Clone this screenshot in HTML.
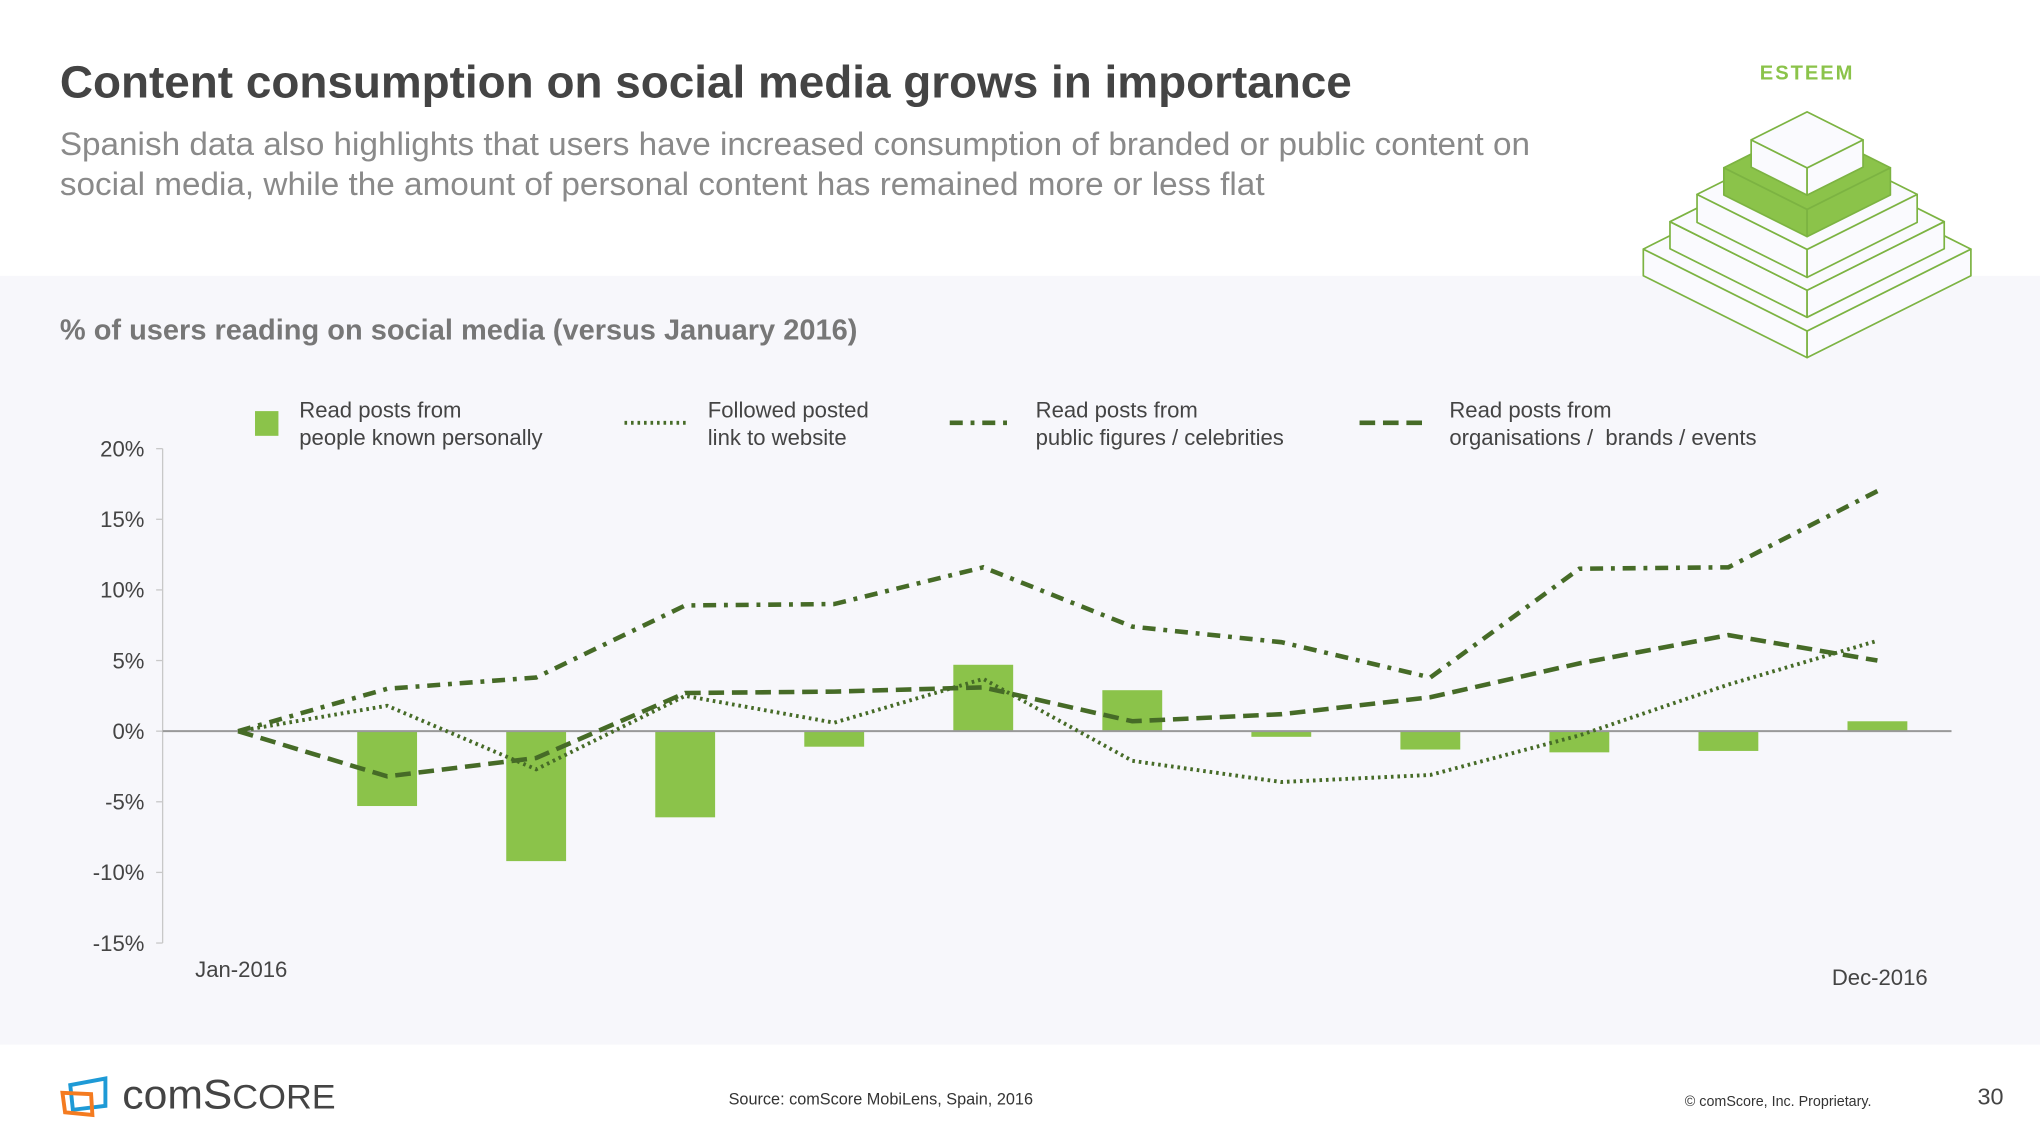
<!DOCTYPE html>
<html><head><meta charset="utf-8"><style>
html,body{margin:0;padding:0;background:#fff;}
svg{display:block;font-family:"Liberation Sans",Arial,sans-serif;}
</style></head><body>
<svg id="page" width="2040" height="1148" viewBox="0 0 1568 882.4" xmlns="http://www.w3.org/2000/svg">
<rect x="0" y="0" width="1568" height="882.4" fill="#ffffff"/>
<rect x="0" y="212" width="1568" height="591" fill="#f7f7fb"/>
<text x="46" y="75" font-size="35" font-weight="bold" fill="#444" textLength="993" lengthAdjust="spacingAndGlyphs">Content consumption on social media grows in importance</text>
<text x="46" y="119" font-size="25" fill="#8a8a8a" textLength="1130" lengthAdjust="spacingAndGlyphs">Spanish data also highlights that users have increased consumption of branded or public content on</text>
<text x="46" y="150" font-size="25" fill="#8a8a8a" textLength="926" lengthAdjust="spacingAndGlyphs">social media, while the amount of personal content has remained more or less flat</text>
<text x="1389" y="61" font-size="15.5" font-weight="bold" fill="#8bc34a" text-anchor="middle" letter-spacing="1.5">ESTEEM</text>
<g id="pyramid"></g>
<text x="46" y="261" font-size="22" font-weight="bold" fill="#777" textLength="613" lengthAdjust="spacingAndGlyphs">% of users reading on social media (versus January 2016)</text>
<g id="legend">
  <g>
    <rect x="196" y="316" width="18" height="19" fill="#8bc34a"/>
    <text x="230" y="321" font-size="17" fill="#444">Read posts from</text>
    <text x="230" y="342" font-size="17" fill="#444">people known personally</text>
  </g>
  <g>
    <line x1="480" y1="325" x2="527" y2="325" stroke="#466b27" stroke-width="3" stroke-dasharray="2 3"/>
    <text x="544" y="321" font-size="17" fill="#444">Followed posted</text>
    <text x="544" y="342" font-size="17" fill="#444">link to website</text>
  </g>
  <g>
    <line x1="730" y1="325" x2="777" y2="325" stroke="#466b27" stroke-width="3.5" stroke-dasharray="10 6 3 6"/>
    <text x="796" y="321" font-size="17" fill="#444">Read posts from</text>
    <text x="796" y="342" font-size="17" fill="#444">public figures / celebrities</text>
  </g>
  <g>
    <line x1="1045" y1="325" x2="1097" y2="325" stroke="#466b27" stroke-width="3.5" stroke-dasharray="12 6"/>
    <text x="1114" y="321" font-size="17" fill="#444">Read posts from</text>
    <text x="1114" y="342" font-size="17" fill="#444" xml:space="preserve">organisations /  brands / events</text>
  </g>
</g>
<g id="chart"></g>
<g>
  <polygon points="54,834 81,829 81,850 56,853" fill="none" stroke="#1e9ad6" stroke-width="3"/>
  <polygon points="48,840 70,841 71,857 50,855" fill="none" stroke="#f47b20" stroke-width="3"/>
  <text x="94" y="852" font-size="31" fill="#444" textLength="164" lengthAdjust="spacingAndGlyphs">com<tspan font-size="32">S</tspan><tspan font-size="26">CORE</tspan></text>
</g>
<text x="677" y="849" font-size="12.5" fill="#333" text-anchor="middle">Source: comScore MobiLens, Spain, 2016</text>
<text x="1295" y="850" font-size="11" fill="#333">© comScore, Inc. Proprietary.</text>
<text x="1540" y="849" font-size="18" fill="#444" text-anchor="end">30</text>
</svg>
<script>
const months = ["Jan-2016","Feb","Mar","Apr","May","Jun","Jul","Aug","Sep","Oct","Nov","Dec-2016"];
const personalValues = [0, -5.3, -9.2, -6.1, -1.1, 4.7, 2.9, -0.4, -1.3, -1.5, -1.4, 0.7];
const linkValues = [0, 1.8, -2.7, 2.5, 0.6, 3.7, -2.1, -3.6, -3.1, -0.3, 3.3, 6.4];
const celebrityValues = [0, 3.0, 3.8, 8.9, 9.0, 11.6, 7.4, 6.3, 3.8, 11.5, 11.6, 17.0];
const brandValues = [0, -3.2, -1.9, 2.7, 2.8, 3.1, 0.7, 1.2, 2.4, 4.8, 6.8, 5.0];
const yTicks = [20, 15, 10, 5, 0, -5, -10, -15];
const yTickLabels = ["20%","15%","10%","5%","0%","-5%","-10%","-15%"];

const NS = "http://www.w3.org/2000/svg";
const chart = document.getElementById("chart");
function y(v){ return 562 - v * 10.857; }
function x(i){ return 183 + i * 114.55; }
function mk(tag, attrs, parent){
  const e = document.createElementNS(NS, tag);
  for (const k in attrs) e.setAttribute(k, attrs[k]);
  (parent || chart).appendChild(e);
  return e;
}
let ax = mk("line", {x1:125, y1:y(20), x2:125, y2:y(-15), stroke:"#c8c8c8", "stroke-width":1});


yTicks.forEach((t, i) => {
  const tk = mk("line", {x1:120, y1:y(t), x2:125, y2:y(t), stroke:"#c8c8c8", "stroke-width":1});
  
  
  const lb = mk("text", {x:111, y:y(t)+6, "font-size":17, fill:"#444", "text-anchor":"end"});
  lb.textContent = yTickLabels[i];
  
  
});
personalValues.forEach((v, i) => {
  const top = Math.min(y(v), y(0)), h = Math.abs(y(v) - y(0));
  const b = mk("rect", {x:x(i)-23, y:top, width:46, height:h, fill:"#8bc34a"});
  
  
});
let zl = mk("line", {x1:125, y1:y(0), x2:1500, y2:y(0), stroke:"#999", "stroke-width":1.5});


function series(vals, dash, w, name){
  const p = mk("polyline", {points: vals.map((v,i)=>x(i)+","+y(v)).join(" "), fill:"none", stroke:"#466b27", "stroke-width":w, "stroke-dasharray":dash});
  
  
}
series(linkValues, "2 3", 3, "line-followed-link");
series(celebrityValues, "10 6 3 6", 3.5, "line-celebrities");
series(brandValues, "12 6", 3.5, "line-brands");
let xl1 = mk("text", {x:150, y:751, "font-size":17, fill:"#444"});
xl1.textContent = months[0];


let xl2 = mk("text", {x:1408, y:757, "font-size":17, fill:"#444"});
xl2.textContent = months[11];



const pyr = document.getElementById("pyramid");
const boxes = [
  [128.5,125.9,20.5,"#fafafe"],
  [117.7,105.4,20.8,"#fafafe"],
  [107.1,84.6,21.5,"#fafafe"],
  [96.9,64,21,"#8bc34a"],
  [86,43,21,"#fafafe"]
];
boxes.forEach(b => {
  const [ay, w, t, fill] = b, cx = 1389, h = w/2;
  const st = {stroke:"#7cb342", "stroke-width":1.3, "stroke-linejoin":"round"};
  mk("polygon", Object.assign({points:`${cx-w},${ay+h} ${cx},${ay+w} ${cx},${ay+w+t} ${cx-w},${ay+h+t}`, fill:fill}, st), pyr);
  mk("polygon", Object.assign({points:`${cx+w},${ay+h} ${cx},${ay+w} ${cx},${ay+w+t} ${cx+w},${ay+h+t}`, fill:fill}, st), pyr);
  mk("polygon", Object.assign({points:`${cx},${ay} ${cx+w},${ay+h} ${cx},${ay+w} ${cx-w},${ay+h}`, fill:fill}, st), pyr);
});
</script>
</body></html>
